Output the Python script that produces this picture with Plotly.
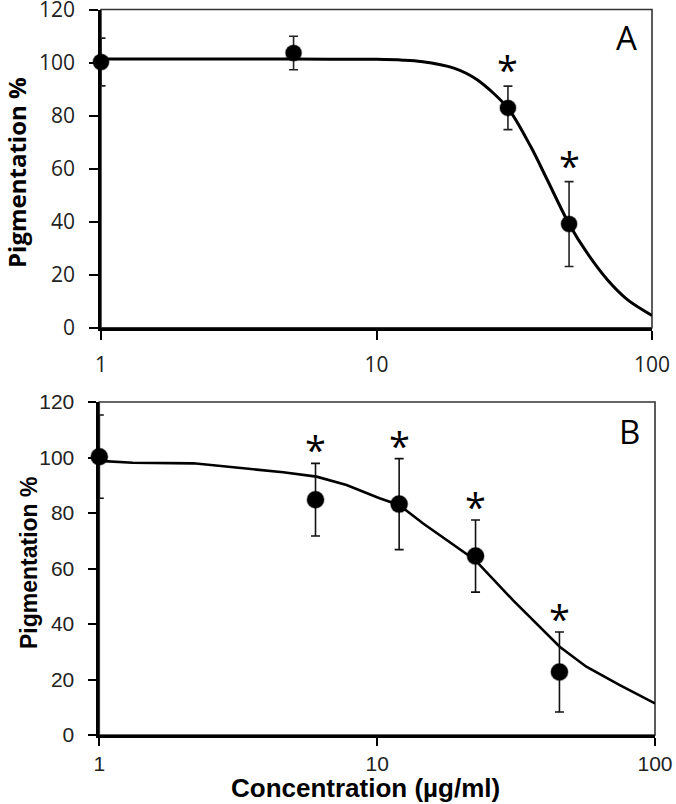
import math
import plotly.graph_objects as go

# ---------------- data ----------------
# Panel A
a_conc = [1, 5, 30, 50]
a_pig = [100.2, 103.6, 82.9, 39.1]
a_err = [9.0, 6.3, 8.2, 16.0]
a_star = [False, False, True, True]
a_fit_x = [1, 2, 5, 10, 12.5, 14.5, 19.1, 23.2, 30, 36.3, 41.7, 50, 58.3, 69, 81.6, 100]
a_fit_y = [101.3, 101.3, 101.3, 101.2, 100.9, 100.4, 97.9, 93.5, 82.8, 68.3, 55.7, 39.1, 28.0, 18.0, 10.5, 4.6]

# Panel B
b_conc = [1, 6, 12, 22.6, 45.3]
b_pig = [100.3, 84.8, 83.2, 64.5, 22.7]
b_err = [15.0, 13.1, 16.4, 13.0, 14.4]
b_star = [False, True, True, True, True]
b_fit_x = [1, 1.32, 2.18, 3.03, 4.59, 6.05, 7.76, 10.2, 12, 14.6, 17.8, 22.5, 30.8, 45.4, 56.6, 74.7, 100]
b_fit_y = [98.8, 98.1, 97.9, 96.5, 94.7, 93.1, 90.1, 85.3, 82.9, 76.3, 70.3, 63.1, 48.6, 31.8, 24.6, 18.0, 11.4]

y_ticks = [0, 20, 40, 60, 80, 100, 120]
x_ticks = [1, 10, 100]
y_title = "Pigmentation %"
x_title = "Concentration (\u00b5g/ml)"
panel_labels = ["A", "B"]

W, H = 676, 804
OFF = 0  # body margin removed via post_script
FA = "Open Sans, Lato, sans-serif"
FB = "Liberation Sans, Arial, sans-serif"

fig = go.Figure()

# fitted curves
fig.add_trace(go.Scatter(x=a_fit_x, y=a_fit_y, mode="lines", xaxis="x", yaxis="y",
                         line=dict(color="black", width=3, shape="spline", smoothing=0.8),
                         hoverinfo="skip", showlegend=False))
fig.add_trace(go.Scatter(x=b_fit_x, y=b_fit_y, mode="lines", xaxis="x2", yaxis="y2",
                         line=dict(color="black", width=2.6),
                         hoverinfo="skip", showlegend=False))

# data points
fig.add_trace(go.Scatter(x=a_conc, y=a_pig, mode="markers", xaxis="x", yaxis="y",
                         marker=dict(color="black", size=16, line=dict(color="rgba(0,0,0,0.35)", width=1.5)),
                         error_y=dict(type="data", array=a_err, visible=True, color="#222",
                                      thickness=1.6, width=4.5),
                         cliponaxis=False, showlegend=False))
fig.add_trace(go.Scatter(x=b_conc, y=b_pig, mode="markers", xaxis="x2", yaxis="y2",
                         marker=dict(color="black", size=17, line=dict(color="rgba(0,0,0,0.35)", width=1.5)),
                         error_y=dict(type="data", array=b_err, visible=True, color="#111",
                                      thickness=1.6, width=4.5),
                         cliponaxis=False, showlegend=False))

# domains (pixel based, in page coordinates)
def px_x(a, b):
    return [(a - OFF) / W, (b - OFF) / W]

def px_y(top, bottom):
    return [1 - (bottom - OFF) / H, 1 - (top - OFF) / H]

def pap_x(v):
    return (v - OFF) / W

def pap_y(v):
    return 1 - (v - OFF) / H

common_x = dict(type="log", range=[0, 2], tickvals=x_ticks, ticktext=[str(v) for v in x_ticks],
                showgrid=False, zeroline=False, showline=True, linecolor="black", linewidth=2.7,
                ticks="outside", ticklen=9, tickwidth=1.6, tickcolor="black", automargin=False,
                ticklabeloverflow="allow")
common_y = dict(range=[0, 120], tickvals=y_ticks, showgrid=False, zeroline=False, showline=True,
                linecolor="black", linewidth=2.7, ticks="outside", ticklen=9, tickwidth=1.6,
                tickcolor="black", automargin=False, ticklabeloverflow="allow")

fig.update_layout(
    width=W, height=H, margin=dict(l=0, r=0, t=0, b=0, autoexpand=False),
    paper_bgcolor="white", plot_bgcolor="white", showlegend=False,
    xaxis=dict(common_x, domain=px_x(101, 652), anchor="y",
               tickfont=dict(family=FA, size=21, color="#222"), ticklabelstandoff=7),
    yaxis=dict(common_y, domain=px_y(9.5, 327.7), anchor="x",
               tickfont=dict(family=FA, size=21, color="#222"), ticklabelstandoff=10),
    xaxis2=dict(common_x, domain=px_x(99.3, 655), anchor="y2", ticklen=8,
                tickfont=dict(family=FB, size=21, color="#222"), ticklabelstandoff=0),
    yaxis2=dict(common_y, domain=px_y(402, 735), anchor="x2", ticklen=8,
                tickfont=dict(family=FB, size=21, color="#222"), ticklabelstandoff=10),
)

# frames (thin top/right borders)
for xr, yr in [("x", "y"), ("x2", "y2")]:
    fig.add_shape(type="rect", xref=f"{xr} domain", yref=f"{yr} domain", x0=0, x1=1, y0=0, y1=1,
                  line=dict(color="#333", width=1.6), layer="below")

annotations = []
# significance asterisks
for xs, ys, es, st, xr, yr, sh in [(a_conc, a_pig, a_err, a_star, "x", "y", -11),
                                   (b_conc, b_pig, b_err, b_star, "x2", "y2", -14)]:
    for xv, yv, ev, s in zip(xs, ys, es, st):
        if s:
            annotations.append(dict(x=math.log10(xv), y=yv + ev, xref=xr, yref=yr, text="*",
                                    showarrow=False, yanchor="bottom", yshift=sh,
                                    font=dict(family=FA, size=38, color="black")))

# panel letters
annotations.append(dict(x=pap_x(626), y=pap_y(37), xref="paper", yref="paper", text=panel_labels[0],
                        showarrow=False, xanchor="center", yanchor="middle",
                        font=dict(family=FA, size=33, color="black")))
annotations.append(dict(x=pap_x(629), y=pap_y(431), xref="paper", yref="paper", text=panel_labels[1],
                        showarrow=False, xanchor="center", yanchor="middle",
                        font=dict(family=FA, size=33, color="black")))

# axis titles
annotations.append(dict(x=pap_x(16), y=pap_y(173), xref="paper", yref="paper", text="<b>" + y_title + "</b>",
                        textangle=-90, showarrow=False, xanchor="center", yanchor="middle",
                        font=dict(family=FA, size=24, color="black")))
annotations.append(dict(x=pap_x(29), y=pap_y(563), xref="paper", yref="paper", text="<b>" + y_title + "</b>",
                        textangle=-90, showarrow=False, xanchor="center", yanchor="middle",
                        font=dict(family=FB, size=23, color="black")))
annotations.append(dict(x=pap_x(365), y=pap_y(788), xref="paper", yref="paper", text="<b>" + x_title + "</b>",
                        showarrow=False, xanchor="center", yanchor="middle",
                        font=dict(family=FB, size=26, color="black")))

fig.update_layout(annotations=annotations)
fig.write_html("out.html", config={"displayModeBar": False},
               post_script="document.body.style.margin='0px';document.body.style.overflow='hidden';")
